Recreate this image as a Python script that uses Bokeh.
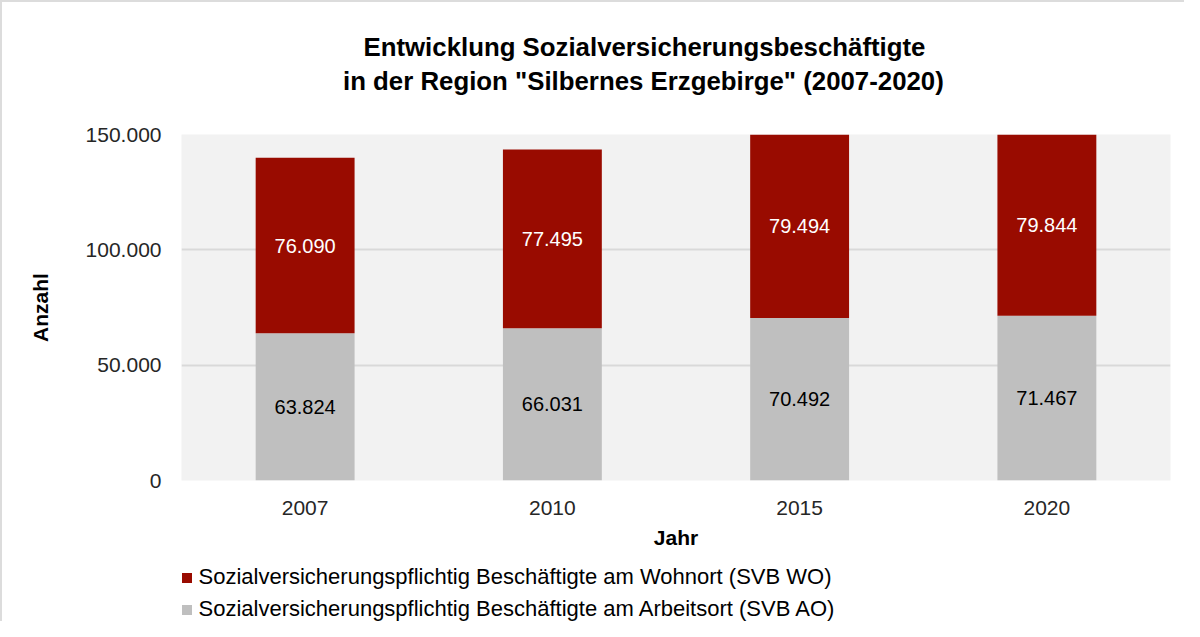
from bokeh.plotting import figure
from bokeh.layouts import column
from bokeh.models import (Range1d, FactorRange, FixedTicker, Title, Legend,
                          LegendItem, ColumnDataSource)
from bokeh.core.properties import value
from bokeh.embed import file_html
from bokeh.resources import INLINE

# ---- data ----
years = ["2007", "2010", "2015", "2020"]
svb_ao = [63824, 66031, 70492, 71467]   # Arbeitsort (grau)
svb_wo = [76090, 77495, 79494, 79844]   # Wohnort (rot)
y_ticks = [0, 50000, 100000, 150000]
y_max = 150000
title_line1 = "Entwicklung Sozialversicherungsbeschäftigte"
title_line2 = 'in der Region "Silbernes Erzgebirge" (2007-2020)'
legend_labels = ["Sozialversicherungspflichtig Beschäftigte am Wohnort (SVB WO)",
                 "Sozialversicherungspflichtig Beschäftigte am Arbeitsort (SVB AO)"]
x_title = "Jahr"
y_title = "Anzahl"


def de(v):
    return f"{v:,}".replace(",", ".")


FONT = "Liberation Sans"
RED = "#990b00"
GREY = "#bfbfbf"

p = figure(x_range=FactorRange(*years, range_padding=0),
           y_range=Range1d(0, y_max),
           width=1182, height=560,
           output_backend="svg", toolbar_location=None,
           min_border_left=179, min_border_right=14,
           min_border_top=132, min_border_bottom=82,
           background_fill_color="#f2f2f2", border_fill_color="white",
           outline_line_color=None)

src = ColumnDataSource(dict(years=years, ao=svb_ao, wo=svb_wo))
p.vbar_stack(["ao", "wo"], x="years", width=0.4, source=src,
             fill_color=[GREY, RED], line_color=[None, None])

# data labels
ao_mid = [a / 2 for a in svb_ao]
wo_mid = [(a + min(a + w, y_max)) / 2 for a, w in zip(svb_ao, svb_wo)]
p.text(x=years, y=ao_mid, text=[de(v) for v in svb_ao],
       text_align="center", text_baseline="middle",
       text_font=value(FONT), text_font_size="20px", text_color="#000000")
p.text(x=years, y=wo_mid, text=[de(v) for v in svb_wo],
       text_align="center", text_baseline="middle",
       text_font=value(FONT), text_font_size="20px", text_color="#ffffff")

# axes
p.yaxis.ticker = FixedTicker(ticks=y_ticks)
p.yaxis.major_label_overrides = {t: de(t) for t in y_ticks}
for ax in (p.xaxis, p.yaxis):
    ax.axis_line_color = None
    ax.major_tick_line_color = None
    ax.minor_tick_line_color = None
    ax.major_label_text_font = FONT
    ax.major_label_text_font_size = "21px"
    ax.major_label_text_color = "#262626"
    ax.axis_label_text_font = FONT
    ax.axis_label_text_font_size = "21px"
    ax.axis_label_text_font_style = "bold"
    ax.axis_label_text_color = "#000000"
p.xaxis.axis_label = x_title
p.yaxis.axis_label = y_title
p.xaxis.major_label_standoff = 14
p.xaxis.axis_label_standoff = 8
p.yaxis.major_label_standoff = 14
p.yaxis.axis_label_standoff = 31

p.xgrid.visible = False
p.ygrid.grid_line_color = "#d9d9d9"
p.ygrid.grid_line_width = 2

# titles (outermost: p.title; first added = nearest to the frame)
p.title.text = title_line1
p.title.align = "left"
p.title.offset = 182
p.title.standoff = 7
p.title.text_font = FONT
p.title.text_font_size = "25.8px"
p.title.text_font_style = "bold"
p.title.text_color = "#000000"
p.add_layout(Title(text=" ", standoff=37, text_font_size="1px"), "above")
p.add_layout(Title(text=title_line2, align="left", offset=161.5, standoff=0,
                   text_font=FONT, text_font_size="25.8px",
                   text_font_style="bold", text_color="#000000"), "above")

# ---- legend strip below the chart ----
pl = figure(x_range=FactorRange(*years), y_range=Range1d(0, 1),
            width=1182, height=59, output_backend="svg",
            toolbar_location=None, title=None,
            x_axis_type=None, y_axis_type=None,
            min_border_left=0, min_border_right=0,
            min_border_top=0, min_border_bottom=0,
            outline_line_color=None, background_fill_color="white",
            border_fill_color="white")
leg_wo = pl.scatter(x=years, y=wo_mid, size=0, marker="square",
                    fill_color=RED, line_color=None)
leg_ao = pl.scatter(x=years, y=ao_mid, size=0, marker="square",
                    fill_color=GREY, line_color=None)
legend = Legend(items=[LegendItem(label=legend_labels[0], renderers=[leg_wo]),
                       LegendItem(label=legend_labels[1], renderers=[leg_ao])],
                location=(-7.5, -1), orientation="vertical",
                glyph_width=25, glyph_height=25, label_standoff=-6,
                spacing=6, padding=0, margin=0,
                border_line_color=None, background_fill_alpha=0,
                label_text_font=FONT, label_text_font_size="22px",
                label_text_color="#000000")
pl.add_layout(legend)

lay = column(p, pl, spacing=0)
lay.styles = {"border-top": "2px solid #dcdcdc", "border-left": "2px solid #dcdcdc"}

open("out.html", "w").write(file_html(lay, INLINE))
